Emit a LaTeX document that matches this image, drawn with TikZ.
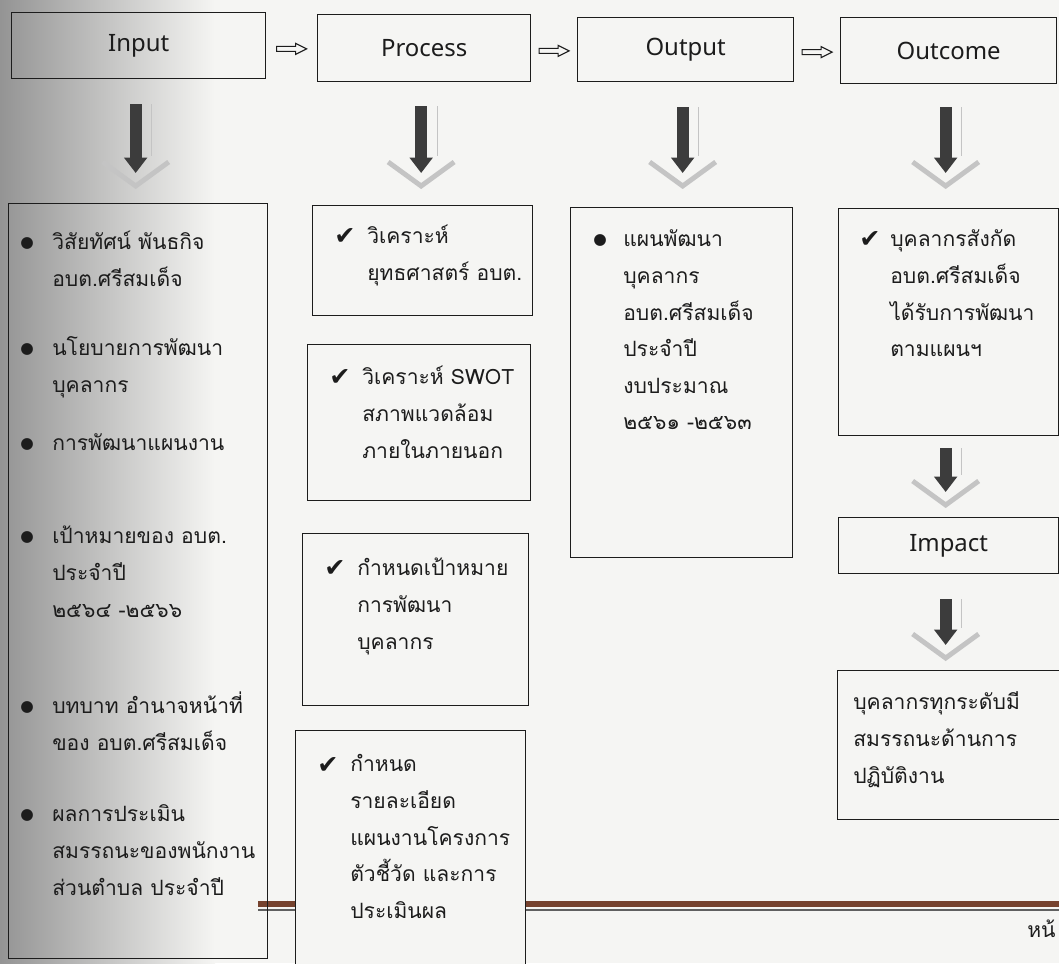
\documentclass[tikz,border=0pt]{standalone}
\usepackage{fontspec}
\setmainfont[Script=Thai]{Loma}
\newfontfamily\headfont{Noto Sans}
\newfontfamily\symfont{DejaVu Sans}
\usetikzlibrary{arrows.meta,positioning,calc}
\definecolor{paper}{RGB}{245,245,243}
\definecolor{ink}{RGB}{28,28,28}
\definecolor{shaft}{RGB}{60,60,60}
\definecolor{chev}{RGB}{196,196,196}
\definecolor{rulebrown}{RGB}{118,66,46}
\newcommand\thaisize{\fontsize{15}{26}\selectfont}

% block arrow between two boxes: upper, lower, top gap, bottom gap
\newcommand\dnarrow[4]{%
  \coordinate (top) at ($(#1.south)+(-3,#3)$);
  \coordinate (tip) at ($(#2.north)+(0,-#4)$);
  \coordinate (base) at (top |- tip);
  \draw[chev, line width=0.8pt] ($(top)+(16,0)$) -- ($(base)+(16,-30)$);
  \draw[shaft, line width=8.5pt, -{Triangle[length=11pt,width=16pt]}] (top) -- ($(base)+(0,-13)$);
  \draw[chev, line width=3.5pt] ($(base)+(-33,-24)$) -- (base) -- ($(base)+(33,-24)$);
}

\begin{document}
\begin{tikzpicture}[x=0.025cm, y=-0.025cm,
  box/.style={draw=ink, line width=0.9pt, inner sep=0pt, anchor=north west},
  head/.style={box, font=\headfont\fontsize{17}{20}\selectfont, text=ink},
  lines/.style={anchor=north west, align=left, inner sep=0pt, font=\thaisize, text=ink},
  dot/.style={inner sep=0pt, font=\symfont\fontsize{11}{11}\selectfont, text=ink},
  tick/.style={inner sep=0pt, font=\symfont\fontsize{18}{18}\selectfont, text=ink},
  hollow/.style={draw=ink, fill=paper, line width=0.8pt, line join=miter}]

\useasboundingbox (0,0) rectangle (1059,963);
% page and gutter shadow
\fill[paper] (0,0) rectangle (1059,963);
\shade[left color=black!42, right color=paper] (0,0) rectangle (215,963);
% footer rule
\draw[rulebrown, line width=3.6pt] (258,904) -- (1059,904);
\draw[ink!70, line width=0.9pt] (258,910) -- (1059,910);

% headings
\node[head, minimum width=6.35cm, minimum height=1.65cm] (inp) at (11,12) {Input};
\node[head, minimum width=5.325cm, minimum height=1.675cm] (proc) at (317,14) {Process};
\node[head, minimum width=5.4cm, minimum height=1.6cm] (outp) at (577,17) {Output};
\node[head, minimum width=5.4cm, minimum height=1.65cm] (outc) at (840,17) {Outcome};
\foreach \a/\b in {inp/proc, proc/outp, outp/outc} {
  \coordinate (m) at ($(\a.east)!0.5!(\b.west)+(0,2)$);
  \draw[hollow] ($(m)+(-15,-2.5)$) -- ++(19,0) -- ++(0,-3) -- ++(11,5.5)
    -- ++(-11,5.5) -- ++(0,-3) -- ++(-19,0) -- cycle;
}

% Input column
\node[box, minimum width=6.475cm, minimum height=18.875cm] (inpl) at (8,203) {};
\foreach \dy/\txt [count=\i] in {40/{วิสัยทัศน์ พันธกิจ\\อบต.ศรีสมเด็จ},
    146/{นโยบายการพัฒนา\\บุคลากร}, 241/{การพัฒนาแผนงาน},
    334/{เป้าหมายของ อบต.\\ประจำปี\\๒๕๖๔ -๒๕๖๖},
    504/{บทบาท อำนาจหน้าที่\\ของ อบต.ศรีสมเด็จ},
    612/{ผลการประเมิน\\สมรรถนะของพนักงาน\\ส่วนตำบล ประจำปี}} {
  \node[dot] (inb\i) at ($(inpl.north west)+(19,\dy)$) {●};
  \node[lines] (int\i) at ($(inpl.north west)+(44,\dy-18.9)$) {\strut\txt};
}

% Process column
\node[box, minimum width=5.5cm, minimum height=2.75cm] (pr1) at (312,205) {};
\node[box, minimum width=5.575cm, minimum height=3.9cm] (pr2) at (307,344) {};
\node[box, minimum width=5.65cm, minimum height=4.3cm] (pr3) at (302,533) {};
\node[box, fill=paper, minimum width=5.75cm, minimum height=6.5cm] (pr4) at (295,730) {};
\foreach \bx/\dy/\txt in {pr1/32/{วิเคราะห์\\ยุทธศาสตร์ อบต.},
    pr2/34/{วิเคราะห์ SWOT\\สภาพแวดล้อม\\ภายในภายนอก},
    pr3/36/{กำหนดเป้าหมาย\\การพัฒนา\\บุคลากร},
    pr4/35/{กำหนด\\รายละเอียด\\แผนงานโครงการ\\ตัวชี้วัด และการ\\ประเมินผล}} {
  \node[tick] (\bx-tick) at ($(\bx.north west)+(33,\dy)$) {✔};
  \node[lines] (\bx-text) at ($(\bx.north west)+(55,\dy-18.9)$) {\strut\txt};
}

% Output column
\node[box, minimum width=5.55cm, minimum height=8.75cm] (outl) at (570,207) {};
\node[dot] (outl-dot) at ($(outl.north west)+(30,33)$) {●};
\node[lines] (outl-text) at ($(outl.north west)+(53,14.1)$)
  {\strut แผนพัฒนา\\บุคลากร\\อบต.ศรีสมเด็จ\\ประจำปี\\งบประมาณ\\๒๕๖๑ -๒๕๖๓};

% Outcome column
\node[box, minimum width=5.5cm, minimum height=5.675cm] (outcl) at (838,208) {};
\node[tick] (outcl-tick) at ($(outcl.north west)+(32,32)$) {✔};
\node[lines] (outcl-text) at ($(outcl.north west)+(52,13.1)$)
  {\strut บุคลากรสังกัด\\อบต.ศรีสมเด็จ\\ได้รับการพัฒนา\\ตามแผนฯ};
\node[head, minimum width=5.5cm, minimum height=1.4cm] (imp) at (838,517) {Impact};
\node[box, minimum width=5.7cm, minimum height=3.725cm] (impl) at (837,670) {};
\node[lines] (impl-text) at ($(impl.north west)+(16,14.1)$)
  {\strut บุคลากรทุกระดับมี\\สมรรถนะด้านการ\\ปฏิบัติงาน};

% down arrows
\dnarrow{inp}{inpl}{25}{17}
\dnarrow{proc}{pr1}{24}{19}
\dnarrow{outp}{outl}{25}{21}
\dnarrow{outc}{outcl}{23}{22}
\dnarrow{outcl}{imp}{12}{12}
\dnarrow{imp}{impl}{25}{12}

% page number, cut by the edge
\node[lines, anchor=base west] (pageno) at (1027,937) {หน้};
\end{tikzpicture}
\end{document}
